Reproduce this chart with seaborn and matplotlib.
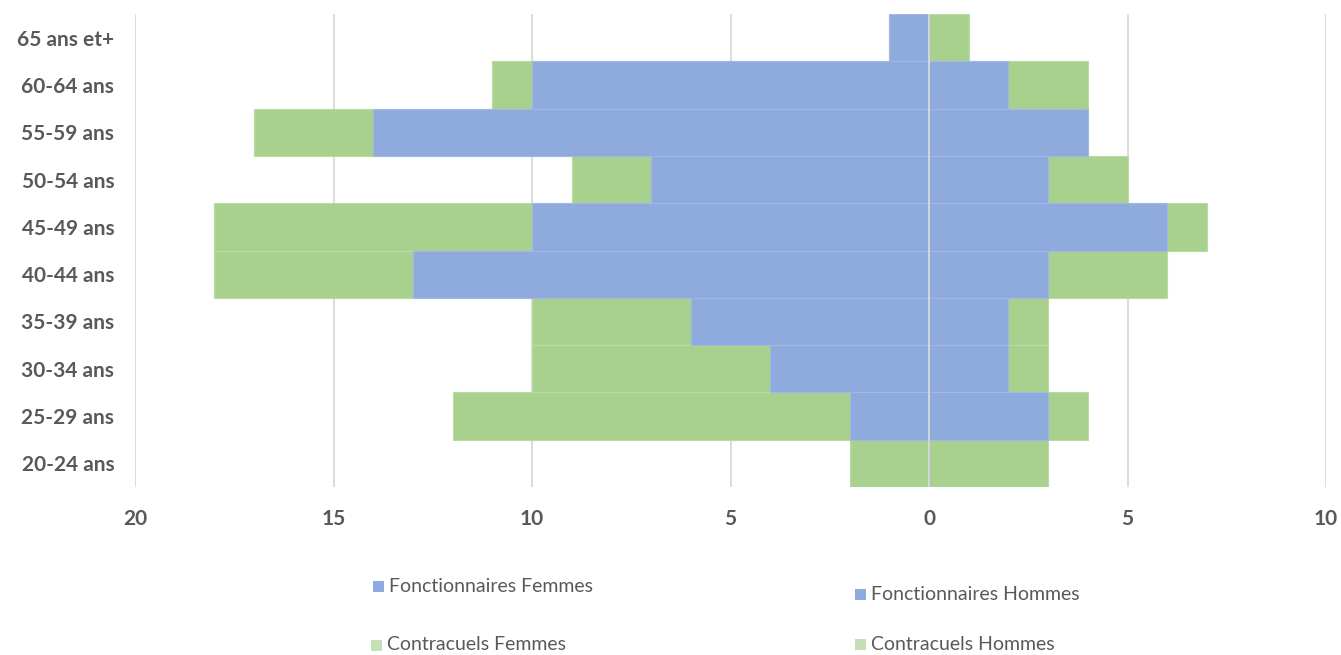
import matplotlib
matplotlib.use("Agg")
import matplotlib.pyplot as plt
import matplotlib.patches as mpatches
import seaborn as sns
import pandas as pd

# Age groups, top to bottom
ages = ["65 ans et+", "60-64 ans", "55-59 ans", "50-54 ans", "45-49 ans",
        "40-44 ans", "35-39 ans", "30-34 ans", "25-29 ans", "20-24 ans"]

# Headcounts per group
fonct_femmes = [1, 10, 14, 7, 10, 13, 6, 4, 2, 0]
contr_femmes = [0, 1, 3, 2, 8, 5, 4, 6, 10, 2]
fonct_hommes = [0, 2, 4, 3, 6, 3, 2, 2, 3, 0]
contr_hommes = [1, 2, 0, 2, 1, 3, 1, 1, 1, 3]

x_ticks = [-20, -15, -10, -5, 0, 5, 10]
x_tick_labels = ["20", "15", "10", "5", "0", "5", "10"]

legend_labels = ["Fonctionnaires Femmes", "Fonctionnaires Hommes",
                 "Contracuels Femmes", "Contracuels Hommes"]

BLUE = "#8FAADC"
GREEN = "#A9D18E"
GREEN_LIGHT = "#C5E0B4"
TEXT = "#595959"
GRID = "#D9D9D9"

sns.set_theme(style="white")
plt.rcParams["font.family"] = ["Lato", "DejaVu Sans"]

df = pd.DataFrame({
    "age": ages,
    "femmes_total": [-(a + b) for a, b in zip(fonct_femmes, contr_femmes)],
    "femmes_fonct": [-a for a in fonct_femmes],
    "hommes_total": [a + b for a, b in zip(fonct_hommes, contr_hommes)],
    "hommes_fonct": fonct_hommes,
})

fig = plt.figure(figsize=(13.41, 6.55), dpi=100)
ax = fig.add_axes([135 / 1341, 1 - 487 / 655, (1326 - 135) / 1341, (487 - 14) / 655])

bar_kw = dict(y="age", order=ages, orient="h", width=1.0, ax=ax,
              linewidth=0.8, zorder=2, saturation=1)
sns.barplot(data=df, x="femmes_total", color=GREEN, edgecolor="#B8DBA2", **bar_kw)
sns.barplot(data=df, x="hommes_total", color=GREEN, edgecolor="#B8DBA2", **bar_kw)
sns.barplot(data=df, x="femmes_fonct", color=BLUE, edgecolor="#A0B8E2", **bar_kw)
sns.barplot(data=df, x="hommes_fonct", color=BLUE, edgecolor="#A0B8E2", **bar_kw)

ax.set_xlim(-20, 10)
ax.set_ylim(len(ages) - 0.5, -0.5)

ax.set_xticks(x_ticks)
ax.set_xticklabels(x_tick_labels)
for v in x_ticks:
    if v != 0:
        ax.axvline(v, color=GRID, linewidth=1.3, zorder=1)
ax.axvline(0, color=GRID, linewidth=1.3, zorder=3)

for s in ax.spines.values():
    s.set_visible(False)

ax.set_xlabel("")
ax.set_ylabel("")
ax.tick_params(axis="both", length=0, labelsize=15, labelcolor=TEXT)
ax.tick_params(axis="x", pad=16)
ax.tick_params(axis="y", pad=15)
for lbl in ax.get_xticklabels() + ax.get_yticklabels():
    lbl.set_fontweight("bold")

# Legend laid out in two columns
entries = [
    (legend_labels[0], BLUE, 373, 586),
    (legend_labels[1], BLUE, 855, 594),
    (legend_labels[2], GREEN_LIGHT, 371, 645),
    (legend_labels[3], GREEN_LIGHT, 855, 644),
]
W, H = 1341, 655
sq = 11
for label, col, px, py in entries:
    fig.patches.append(mpatches.Rectangle(
        (px / W, 1 - (py + sq / 2) / H), sq / W, sq / H,
        transform=fig.transFigure, facecolor=col, edgecolor="none"))
    fig.text((px + sq + 5) / W, 1 - py / H, label, color=TEXT,
             fontsize=14, va="center", ha="left")

fig.savefig("out.png", dpi=100)
